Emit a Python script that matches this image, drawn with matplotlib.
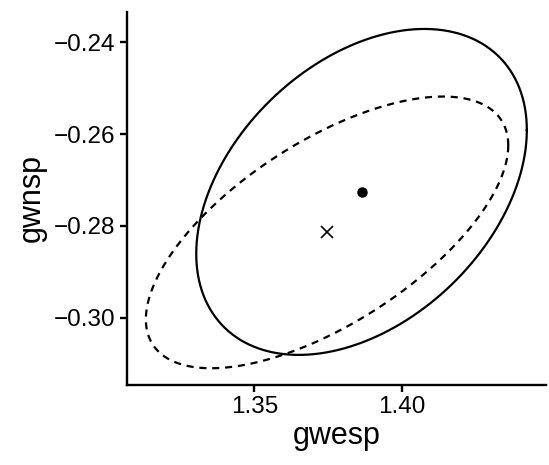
import numpy as np
import matplotlib
matplotlib.use("Agg")
import matplotlib.pyplot as plt

plt.rcParams['font.family'] = ['Liberation Sans', 'DejaVu Sans']

# Solid ellipse (centred on the dot estimate)
solid_center = (1.3864, -0.2726)
solid_sd = (0.0561, 0.03545)
solid_rho = 0.38

# Dashed ellipse (centred on the cross estimate)
dashed_center = (1.3747, -0.2814)
dashed_sd = (0.0615, 0.02955)
dashed_rho = 0.64

x_ticks = [1.35, 1.40]
y_ticks = [-0.30, -0.28, -0.26, -0.24]


def ellipse_xy(center, sd, rho, n=500):
    t = np.linspace(0, 2 * np.pi, n)
    cov = np.array([[sd[0] ** 2, rho * sd[0] * sd[1]],
                    [rho * sd[0] * sd[1], sd[1] ** 2]])
    L = np.linalg.cholesky(cov)
    pts = L @ np.vstack([np.cos(t), np.sin(t)])
    return pts[0] + center[0], pts[1] + center[1]


fig = plt.figure(figsize=(5.49, 4.65), dpi=100)
ax = fig.add_axes([0.2308, 0.172, 0.7637, 0.8028])

xs, ys = ellipse_xy(solid_center, solid_sd, solid_rho)
ax.plot(xs, ys, color='black', lw=1.6)
xd, yd = ellipse_xy(dashed_center, dashed_sd, dashed_rho)
ax.plot(xd, yd, color='black', lw=1.6, linestyle=(0, (3.2, 2.6)))

ax.plot([solid_center[0]], [solid_center[1]], marker='o', color='black',
        markersize=6.5, linestyle='none')
ax.plot([dashed_center[0]], [dashed_center[1]], marker='x', color='black',
        markersize=8.5, markeredgewidth=1.2, linestyle='none')

ax.set_xlim(1.3067, 1.4490)
ax.set_ylim(-0.3146, -0.2334)
ax.set_xticks(x_ticks)
ax.set_xticklabels([f"{v:.2f}" for v in x_ticks])
ax.set_yticks(y_ticks)
ax.set_yticklabels([f"\u2212{abs(v):.2f}" for v in y_ticks])

for s in ['top', 'right']:
    ax.spines[s].set_visible(False)
for s in ['left', 'bottom']:
    ax.spines[s].set_linewidth(1.7)
ax.tick_params(axis='both', which='major', length=5, width=1.7, labelsize=17.5,
               color='black', labelcolor='black', pad=3)

ax.set_xlabel('gwesp', fontsize=22, labelpad=2)
ax.set_ylabel('gwnsp', fontsize=22, labelpad=5)

fig.savefig('out.png', dpi=100)
